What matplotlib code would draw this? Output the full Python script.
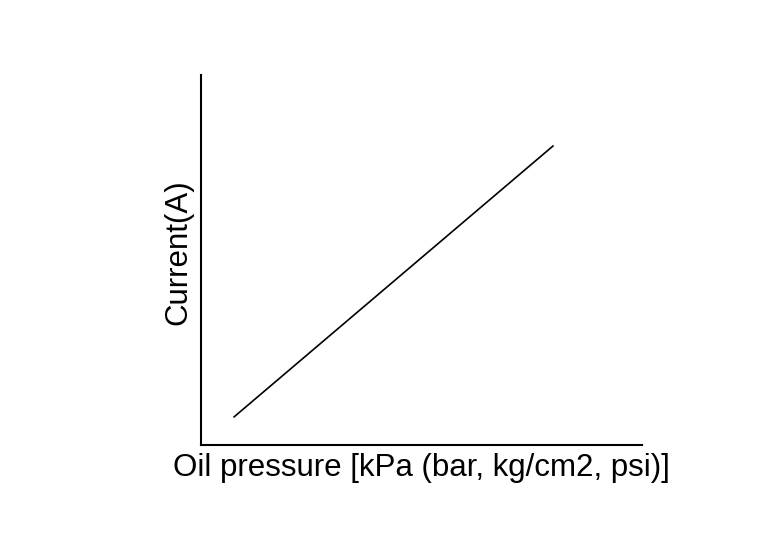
import matplotlib
matplotlib.use("Agg")
import matplotlib.pyplot as plt

# characteristic line (normalised axis units, no ticks on the original)
oil_pressure = [0.075, 0.798]
current = [0.076, 0.808]

X_LABEL = "Oil pressure [kPa (bar, kg/cm2, psi)]"
Y_LABEL = "Current(A)"

plt.rcParams["font.family"] = ["Liberation Sans", "DejaVu Sans"]

fig = plt.figure(figsize=(7.69, 5.45), dpi=100)
ax = fig.add_axes([0.2614, 0.1835, 0.5735, 0.6789])

ax.plot(oil_pressure, current, color="black", lw=1.2)
ax.set_xlim(0, 1)
ax.set_ylim(0, 1)

for side in ("top", "right"):
    ax.spines[side].set_visible(False)
for side in ("left", "bottom"):
    ax.spines[side].set_linewidth(1.5)
ax.set_xticks([])
ax.set_yticks([])

ax.set_xlabel(X_LABEL, fontsize=22.5)
ax.set_ylabel(Y_LABEL, fontsize=22.5)
ax.xaxis.set_label_coords(0.5, -0.022)
ax.xaxis.label.set_va("top")
ax.yaxis.set_label_coords(-0.017, 0.52)
ax.yaxis.label.set_va("bottom")

fig.savefig("out.png", dpi=100)
